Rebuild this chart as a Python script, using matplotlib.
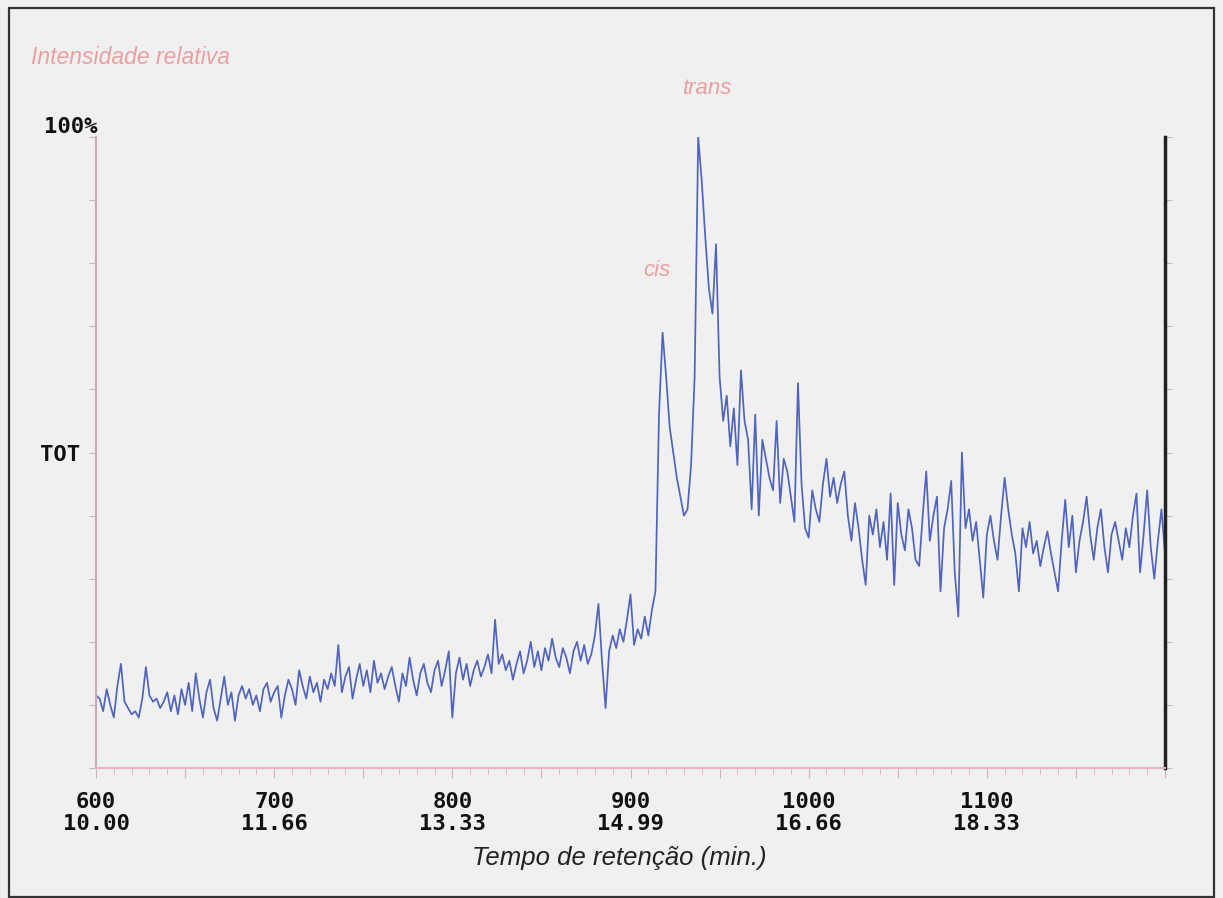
import numpy as np
import matplotlib
matplotlib.use("Agg")
import matplotlib.pyplot as plt
from matplotlib.ticker import MultipleLocator
from matplotlib.patches import Rectangle

# ---- data: relative intensity (%) sampled every 2 scans ----
scan_step = 2
seg_600 = [11.5, 11.0, 9.0, 12.5, 10.0, 8.0, 13.0, 16.5, 10.5, 9.5, 8.5, 9.0, 8.0, 11.0, 16.0, 11.5,
           10.5, 11.0, 9.5, 10.5, 12.0, 9.0, 11.5, 8.5, 12.5, 10.0, 13.5, 9.0, 15.0, 11.0, 8.0, 12.0,
           14.0, 9.5, 7.5, 11.0, 14.5, 10.0, 12.0, 7.5, 11.5, 13.0, 11.0, 12.5, 10.0, 11.5, 9.0, 12.5,
           13.5, 10.5, 12.0]                                   # scans 600..700
seg_702 = [13.0, 8.0, 11.5, 14.0, 12.5, 10.0, 15.5, 13.0, 11.0, 14.5, 12.0, 13.5, 10.5, 14.0, 12.5,
           15.0, 13.0, 19.5, 12.0, 14.5, 16.0, 11.0, 14.0, 16.5, 13.0, 15.5, 12.0, 17.0, 13.5, 15.0,
           12.5, 14.5, 16.0, 13.0, 10.5, 15.0, 13.0, 17.5, 14.0, 11.5, 15.0, 16.5, 13.5, 12.0, 15.5,
           17.0, 13.0, 15.5, 18.5, 8.0]                         # scans 702..800
seg_802 = [15.0, 17.5, 14.0, 16.5, 13.0, 15.5, 17.0, 14.5, 16.0, 18.0, 15.0, 23.5, 16.5, 18.0, 15.5,
           17.0, 14.0, 16.5, 18.5, 15.0, 17.0, 20.0, 16.0, 18.5, 15.5, 19.0, 17.0, 20.5, 17.5, 16.0,
           19.0, 17.5, 15.0, 18.5, 20.0, 17.0, 19.5, 16.5, 18.0, 21.0, 26.0, 17.0, 9.5, 18.5, 21.0,
           19.0, 22.0, 20.0, 23.5, 27.5]                        # scans 802..900
seg_902 = [19.5, 22.0, 20.5, 24.0, 21.0, 25.0, 28.0]            # scans 902..914
seg_916 = [56, 69, 62, 54, 50, 46, 43, 40, 41, 48, 62, 100, 93, 84, 76, 72, 83, 62, 55, 59, 51, 57,
           48, 63, 55, 52, 41, 56, 40, 52, 49, 46, 44, 55, 42, 49, 47, 43, 39, 61, 45, 38, 36.5,
           44, 41, 39, 45, 49, 43, 46, 42]                      # scans 916..1016
seg_1018 = [45, 47, 40, 36, 42, 38, 33, 29, 40, 37, 41, 35, 39, 33, 43.5, 29, 42, 37, 34.5, 41, 38,
            33, 32, 40, 47, 36, 40, 43, 28, 38, 41, 45.5, 31, 24, 50, 38, 41, 36, 39, 33, 27, 37,
            40, 36, 33]                                         # scans 1018..1106
seg_1108 = [40, 46, 41, 37, 34, 28, 38, 35, 39, 34, 36, 32, 35, 37.5, 34, 31, 28, 36, 42.5, 35, 40,
            31, 36, 39, 43, 37, 33, 38, 41, 35, 31, 37, 39, 36, 33, 38, 35, 40, 43.5, 31, 37, 44,
            35, 30, 36, 41, 34]                                 # scans 1108..1200

segments = [(600, seg_600), (702, seg_702), (802, seg_802), (902, seg_902),
            (916, seg_916), (1018, seg_1018), (1108, seg_1108)]

label_scans = [600, 700, 800, 900, 1000, 1100]
label_times = ["10.00", "11.66", "13.33", "14.99", "16.66", "18.33"]

scans, inten = [], []
for start, vals in segments:
    scans.extend(start + scan_step * np.arange(len(vals)))
    inten.extend(vals)

W, H = 1223, 898
fig = plt.figure(figsize=(W / 100, H / 100), dpi=100, facecolor="#f0f0f0")

def fx(px):
    return px / W

def fy(py):
    return 1 - py / H

# outer frame
fig.patches.append(Rectangle((fx(9), fy(897)), fx(1214) - fx(9), fy(8) - fy(897),
                             transform=fig.transFigure, fill=False, edgecolor="#333333",
                             linewidth=1.6))

ax = fig.add_axes([fx(96), fy(768), fx(1165) - fx(96), fy(137) - fy(768)])
ax.set_facecolor("#f0f0f0")
ax.plot(scans, inten, color="#5064bc", linewidth=1.25)
ax.set_xlim(600, 1200)
ax.set_ylim(0, 100)

ax.spines["top"].set_visible(False)
ax.spines["left"].set_color("#c8a8b8")
ax.spines["left"].set_linewidth(1.5)
ax.spines["bottom"].set_color("#e8b4bc")
ax.spines["bottom"].set_linewidth(1.5)
ax.spines["right"].set_color("#222222")
ax.spines["right"].set_linewidth(2.5)

# major ticks every 50 scans, labels only at the hundreds
ax.xaxis.set_major_locator(MultipleLocator(50))
ax.xaxis.set_minor_locator(MultipleLocator(10))
ax.tick_params(axis="x", which="major", direction="out", length=7, color="#d8b0b8",
               labelbottom=False)
ax.tick_params(axis="x", which="minor", direction="out", length=4, color="#d8b0b8")
for s, t in zip(label_scans, label_times):
    ax.annotate(f"{s}\n{t}", xy=(s, 0), xycoords="data", xytext=(0, -17),
                textcoords="offset points", ha="center", va="top",
                fontfamily="DejaVu Sans Mono", fontweight="bold", fontsize=16,
                linespacing=1.12, color="#111111", annotation_clip=False)

ax.yaxis.set_major_locator(MultipleLocator(10))
ax.tick_params(axis="y", which="both", left=True, right=True, labelleft=False,
               direction="out", length=5, color="#bbbbbb")

fig.text(fx(619), fy(858), "Tempo de retenção (min.)", ha="center", va="center",
         fontfamily="Liberation Sans", style="italic", fontsize=18.5, color="#222222")

fig.text(fx(97), fy(127), "100%", ha="right", va="center", fontfamily="DejaVu Sans Mono",
         fontweight="bold", fontsize=16, color="#111111")
fig.text(fx(40), fy(455), "TOT", ha="left", va="center", fontfamily="DejaVu Sans Mono",
         fontweight="bold", fontsize=16, color="#111111")
fig.text(fx(31), fy(57), "Intensidade relativa", ha="left", va="center",
         fontfamily="Liberation Sans", style="italic", fontsize=16.5, color="#eaa0a0")
fig.text(fx(708), fy(88), "trans", ha="center", va="center",
         fontfamily="Liberation Sans", style="italic", fontsize=16, color="#eaa0a0")
fig.text(fx(657), fy(270), "cis", ha="center", va="center",
         fontfamily="Liberation Sans", style="italic", fontsize=16, color="#eaa0a0")

fig.savefig("out.png", dpi=100, facecolor=fig.get_facecolor())
